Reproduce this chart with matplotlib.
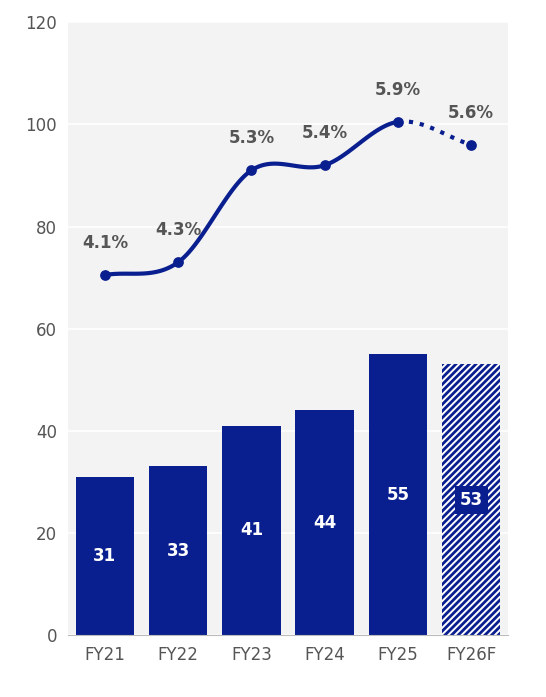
import numpy as np
import matplotlib
matplotlib.use("Agg")
import matplotlib.pyplot as plt

categories = ["FY21", "FY22", "FY23", "FY24", "FY25", "FY26F"]
bar_values = [31, 33, 41, 44, 55, 53]
line_values = [70.5, 73, 91, 92, 100.5, 96]
pct_labels = ["4.1%", "4.3%", "5.3%", "5.4%", "5.9%", "5.6%"]
yticks = [0, 20, 40, 60, 80, 100, 120]

matplotlib.rcParams["hatch.linewidth"] = 2.0
navy = "#0a1f8f"
fig = plt.figure(figsize=(5.46, 6.97), dpi=100)
ax = fig.add_axes([0.125, 0.089, 0.805, 0.879])
ax.set_facecolor("#f3f3f3")
x = np.arange(len(categories))
for i, v in enumerate(bar_values):
    if i == len(bar_values) - 1:
        ax.bar(x[i], v, width=0.8, color="white", edgecolor=navy, hatch="/////", linewidth=0, zorder=2)
        ax.text(x[i], v / 2, str(v), ha="center", va="center", color="white", fontsize=12, fontweight="bold",
                bbox=dict(boxstyle="square,pad=0.3", fc=navy, ec="none"), zorder=4)
    else:
        ax.bar(x[i], v, width=0.8, color=navy, zorder=2)
        ax.text(x[i], v / 2, str(v), ha="center", va="center", color="white", fontsize=12, fontweight="bold", zorder=4)

def catmull(p0, p1, p2, p3, n=40):
    t = np.linspace(0, 1, n)[:, None]
    return 0.5 * ((2 * p1) + (-p0 + p2) * t + (2 * p0 - 5 * p1 + 4 * p2 - p3) * t**2 + (-p0 + 3 * p1 - 3 * p2 + p3) * t**3)

pts = np.column_stack([x, line_values]).astype(float)
ext = np.vstack([pts[0] - (pts[1] - pts[0]), pts, pts[-1] + (pts[-1] - pts[-2])])
for i in range(len(pts) - 1):
    seg = catmull(ext[i], ext[i + 1], ext[i + 2], ext[i + 3])
    ls = ":" if i == len(pts) - 2 else "-"
    ax.plot(seg[:, 0], seg[:, 1], color=navy, lw=3, ls=ls, zorder=3)
ax.scatter(x, line_values, color=navy, s=45, zorder=4)
for xi, v, t in zip(x, line_values, pct_labels):
    ax.text(xi, v + 4.5, t, ha="center", va="bottom", color="#555555", fontsize=12, fontweight="bold")

ax.set_ylim(0, 120)
ax.set_xlim(-0.5, 5.5)
ax.set_yticks(yticks)
ax.set_xticks(x, categories)
ax.grid(axis="y", color="white", lw=1.2, zorder=1)
ax.set_axisbelow(True)
for s in ax.spines.values():
    s.set_visible(False)
ax.spines["bottom"].set_visible(True)
ax.spines["bottom"].set_color("#bbbbbb")
ax.tick_params(length=0, labelsize=12, labelcolor="#555555", pad=8)
fig.savefig("out.png", dpi=100)
